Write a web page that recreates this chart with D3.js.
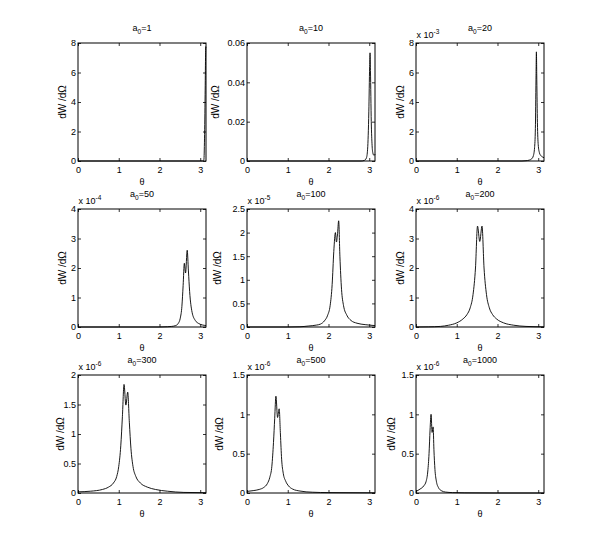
<!DOCTYPE html>
<html>
<head>
<meta charset="utf-8">
<script src="https://cdn.jsdelivr.net/npm/d3@7"></script>
<style>
  html, body { margin: 0; padding: 0; background: #fff; }
  text { font-family: "Liberation Sans", Arial, Helvetica, sans-serif; fill: #000; }
</style>
</head>
<body>
<div id="chart"></div>
<script>
// ---- data ----
const titles = ["1", "10", "20", "50", "100", "200", "300", "500", "1000"];
const exps = [null, null, -3, -4, -5, -6, -6, -6, -6];
const yMax = [8, 0.06, 8, 4, 2.5, 4, 2, 1.5, 1.5];
const xTicks = [0, 1, 2, 3];
const yTicks = [
  [0, 2, 4, 6, 8],
  [0, 0.02, 0.04, 0.06],
  [0, 2, 4, 6, 8],
  [0, 1, 2, 3, 4],
  [0, 0.5, 1, 1.5, 2, 2.5],
  [0, 1, 2, 3, 4],
  [0, 0.5, 1, 1.5, 2],
  [0, 0.5, 1, 1.5],
  [0, 0.5, 1, 1.5]
];

const th1 = [0, 1, 2, 3, 3.06, 3.09, 3.105, 3.12, 3.13, 3.135, 3.1416];
const w1  = [0, 0, 0, 0, 0, 0.1, 1.5, 4.5, 7.0, 7.75, 7.7];

const th2 = [0, 1, 2, 2.8, 2.88, 2.93, 2.96, 2.99, 3.01, 3.02, 3.03, 3.05, 3.07, 3.09, 3.11, 3.13, 3.1416];
const w2  = [0, 0, 0, 0, 0.0003, 0.0015, 0.006, 0.025, 0.048, 0.055, 0.046, 0.02, 0.008, 0.004, 0.003, 0.003, 0.0035];

const th3 = [0, 1, 2, 2.6, 2.7, 2.78, 2.84, 2.88, 2.91, 2.93, 2.945, 2.955, 2.965, 2.98, 3.0, 3.03, 3.06, 3.1, 3.1416];
const w3  = [0, 0, 0, 0, 0.02, 0.06, 0.15, 0.35, 0.9, 2.2, 5.5, 7.4, 5.5, 2.6, 1.1, 0.55, 0.38, 0.28, 0.22];

const th4 = [0, 1, 2, 2.2, 2.3, 2.4, 2.46, 2.51, 2.55, 2.58, 2.61, 2.64, 2.68, 2.71, 2.74, 2.8, 2.88, 2.96, 3.05, 3.1416];
const w4  = [0, 0, 0, 0.01, 0.02, 0.05, 0.12, 0.3, 0.7, 1.4, 2.16, 1.83, 2.6, 1.9, 1.2, 0.5, 0.22, 0.12, 0.07, 0.05];

const th5 = [0, 1, 1.3, 1.5, 1.7, 1.8, 1.9, 1.98, 2.04, 2.09, 2.13, 2.17, 2.195, 2.22, 2.25, 2.28, 2.32, 2.37, 2.45, 2.55, 2.7, 2.9, 3.1416];
const w5  = [0, 0, 0.005, 0.02, 0.04, 0.06, 0.13, 0.25, 0.45, 0.9, 1.6, 2.0, 1.8, 1.95, 2.25, 1.5, 0.8, 0.45, 0.25, 0.14, 0.08, 0.05, 0.03];

const th6 = [0, 0.3, 0.6, 0.8, 1.0, 1.15, 1.25, 1.33, 1.40, 1.46, 1.51, 1.565, 1.62, 1.67, 1.73, 1.80, 1.88, 1.98, 2.15, 2.4, 2.7, 3.1416];
const w6  = [0, 0.005, 0.02, 0.06, 0.14, 0.27, 0.42, 0.65, 1.1, 2.0, 3.42, 2.9, 3.42, 2.0, 1.1, 0.65, 0.42, 0.27, 0.14, 0.06, 0.02, 0.005];

const th7 = [0, 0.3, 0.6, 0.75, 0.87, 0.95, 1.0, 1.05, 1.09, 1.13, 1.175, 1.22, 1.26, 1.30, 1.35, 1.42, 1.53, 1.7, 1.9, 2.2, 2.6, 3.1416];
const w7  = [0.02, 0.03, 0.06, 0.1, 0.17, 0.28, 0.45, 0.8, 1.3, 1.84, 1.49, 1.71, 1.2, 0.75, 0.45, 0.28, 0.17, 0.1, 0.06, 0.03, 0.01, 0.005];

const th8 = [0, 0.15, 0.3, 0.41, 0.5, 0.56, 0.61, 0.65, 0.68, 0.71, 0.75, 0.79, 0.82, 0.85, 0.89, 0.95, 1.02, 1.12, 1.3, 1.6, 2, 3.1416];
const w8  = [0.02, 0.03, 0.045, 0.07, 0.12, 0.2, 0.34, 0.64, 0.95, 1.23, 0.96, 1.07, 0.75, 0.43, 0.25, 0.15, 0.09, 0.05, 0.025, 0.01, 0.005, 0.002];

const th9 = [0, 0.1, 0.19, 0.25, 0.29, 0.32, 0.345, 0.37, 0.395, 0.42, 0.44, 0.465, 0.5, 0.55, 0.62, 0.72, 0.9, 1.2, 2, 3.1416];
const w9  = [0.02, 0.05, 0.09, 0.15, 0.28, 0.5, 0.8, 1.0, 0.77, 0.84, 0.55, 0.3, 0.15, 0.07, 0.03, 0.012, 0.005, 0.002, 0, 0];

const thetas = [th1, th2, th3, th4, th5, th6, th7, th8, th9];
const values = [w1, w2, w3, w4, w5, w6, w7, w8, w9];

// ---- layout ----
const W = 601, H = 555;
const colLeft = [78, 247, 416];
const rowTop = [43, 209, 375];
const pw = 128, ph = 118;
const ylabelOffset = [16, 32, 16, 16, 30, 16, 18, 28, 25];

const svg = d3.select("#chart").append("svg")
  .attr("width", W).attr("height", H)
  .style("background", "#fff");

for (let i = 0; i < 9; i++) {
  const r = Math.floor(i / 3), c = i % 3;
  const left = colLeft[c], top = rowTop[r];
  const x = d3.scaleLinear().domain([0, Math.PI]).range([0, pw]);
  const y = d3.scaleLinear().domain([0, yMax[i]]).range([ph, 0]);

  const g = svg.append("g").attr("transform", `translate(${left},${top})`);

  // inward ticks with labels
  const fmt = d => String(d);
  const bx = g.append("g").attr("transform", `translate(0,${ph})`)
    .call(d3.axisBottom(x).tickValues(xTicks).tickFormat(fmt).tickSizeInner(-3).tickSizeOuter(0).tickPadding(5.5));
  const tx = g.append("g")
    .call(d3.axisTop(x).tickValues(xTicks).tickFormat("").tickSizeInner(-3).tickSizeOuter(0));
  const ly = g.append("g")
    .call(d3.axisLeft(y).tickValues(yTicks[i]).tickFormat(fmt).tickSizeInner(-3).tickSizeOuter(0).tickPadding(2));
  const ry = g.append("g").attr("transform", `translate(${pw},0)`)
    .call(d3.axisRight(y).tickValues(yTicks[i]).tickFormat("").tickSizeInner(-3).tickSizeOuter(0));
  [bx, tx, ly, ry].forEach(a => {
    a.select(".domain").remove();
    a.selectAll(".tick line").attr("stroke", "#000").attr("stroke-width", 0.8);
    a.selectAll(".tick text").attr("font-size", 9).attr("font-family", '"Liberation Sans", Arial, sans-serif').attr("fill", "#000");
  });

  // curve
  const pts = thetas[i].map((t, k) => [t, values[i][k]]);
  g.append("path")
    .datum(pts)
    .attr("fill", "none")
    .attr("stroke", "#000")
    .attr("stroke-width", 0.9)
    .attr("d", d3.line().x(d => x(d[0])).y(d => y(d[1])).curve(d3.curveMonotoneX));

  // box
  g.append("rect").attr("x", 0).attr("y", 0).attr("width", pw).attr("height", ph)
    .attr("fill", "none").attr("stroke", "#000").attr("stroke-width", 1);

  // title
  const t = g.append("text").attr("x", pw / 2).attr("y", -12.5)
    .attr("text-anchor", "middle").attr("font-size", 9);
  t.append("tspan").text("a");
  t.append("tspan").attr("font-size", 6.5).attr("dy", 3).text("0");
  t.append("tspan").attr("dy", -3).text("=" + titles[i]);

  // exponent
  if (exps[i] !== null) {
    const e = g.append("text").attr("x", 0.5).attr("y", -5).attr("font-size", 9);
    e.append("tspan").text("x 10");
    e.append("tspan").attr("font-size", 6.5).attr("dy", -4).text(String(exps[i]));
  }

  // x label
  g.append("text").attr("x", pw / 2).attr("y", ph + 24)
    .attr("text-anchor", "middle").attr("font-size", 9).text("θ");

  // y label
  g.append("text")
    .attr("transform", `translate(${-ylabelOffset[i]},${ph / 2}) rotate(-90)`)
    .attr("text-anchor", "middle").attr("dominant-baseline", "central")
    .attr("font-size", 10).text("dW /dΩ");
}
</script>
</body>
</html>
